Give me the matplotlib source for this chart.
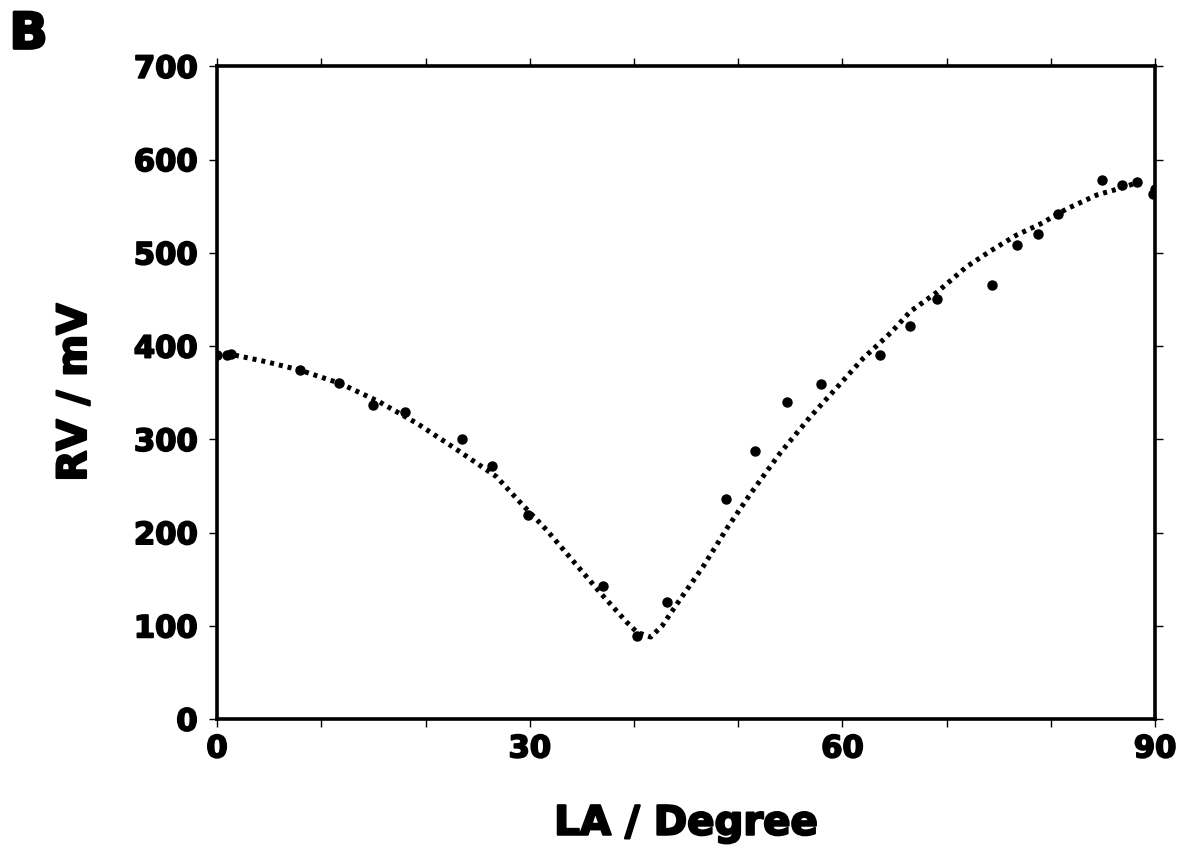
import matplotlib.pyplot as plt
import matplotlib.patheffects as pe

# measured points (LA in degrees, RV in mV)
la_pts = [0, 1.0, 1.3, 8.0, 11.7, 15.0, 18.0, 23.5, 26.4, 29.8, 37.0, 40.3, 43.2,
          48.8, 51.6, 54.7, 57.9, 63.6, 66.5, 69.1, 74.3, 76.7, 78.8, 80.7,
          84.9, 86.8, 88.3, 89.8, 90.0]
rv_pts = [390, 390, 392, 374, 360, 337, 329, 300, 271, 219, 143, 89, 126,
          236, 287, 340, 359, 390, 421, 450, 465, 508, 520, 542,
          578, 573, 576, 563, 568]

# fitted curve
la_fit = [0, 1.4, 4.8, 8.0, 11.8, 15.6, 19.2, 22.6, 26.8, 29.2, 31.6, 34.2,
          36.8, 39.3, 40.3, 41.6, 42.7, 44.4, 46.6, 49.0, 51.2, 54.0, 56.9,
          59.5, 62.0, 64.7, 66.5, 69.1, 71.9, 74.2, 76.7, 79.0, 81.5, 84.4,
          86.9, 88.7]
rv_fit = [390, 391, 383, 374, 360, 340, 317, 292, 260, 231, 203, 169,
          135, 104, 93, 88, 100, 128, 163, 206, 242, 285, 324,
          356, 387, 415, 437, 458, 485, 502, 519, 531, 547, 562,
          570, 577]

plt.rcParams['font.family'] = ['DejaVu Sans']
plt.rcParams['font.weight'] = 'bold'

heavy = [pe.withStroke(linewidth=1.3, foreground='black')]

fig = plt.figure(figsize=(11.86, 8.5), dpi=100)
ax = fig.add_axes([0.183, 0.154, 0.791, 0.768])

ax.plot(la_fit, rv_fit, color='black', lw=3.6, linestyle=(0, (0.8, 1.0)),
        dash_capstyle='butt')
ax.plot(la_pts, rv_pts, 'o', color='black', markersize=6.5)

ax.set_xlim(0, 90)
ax.set_ylim(0, 700)
ax.set_xticks(range(0, 91, 10))
ax.set_xticklabels(['0', '', '', '30', '', '', '60', '', '', '90'])
ax.set_yticks(range(0, 701, 100))
ax.tick_params(direction='out', length=6, width=1, labelsize=22,
               top=True, right=True)
ax.tick_params(axis='x', pad=5)
ax.tick_params(axis='y', pad=8)
for s in ax.spines.values():
    s.set_linewidth(2.6)
for lbl in ax.get_xticklabels() + ax.get_yticklabels():
    lbl.set_path_effects(heavy)

ax.set_xlabel('LA / Degree', fontsize=29, fontweight='bold', labelpad=29,
              path_effects=[pe.withStroke(linewidth=1.6, foreground='black')])
ax.set_ylabel('RV / mV', fontsize=29, fontweight='bold', labelpad=28,
              path_effects=[pe.withStroke(linewidth=1.6, foreground='black')])
fig.text(0.008, 0.943, 'B', fontsize=36, fontweight='bold',
         path_effects=[pe.withStroke(linewidth=2.0, foreground='black')])

fig.savefig('out.png', dpi=100)
